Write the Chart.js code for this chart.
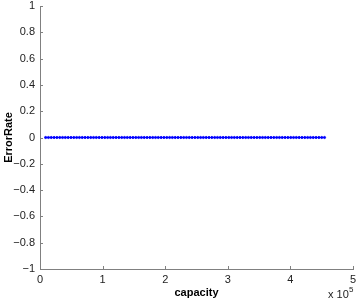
<!DOCTYPE html>
<html>
<head>
<meta charset="utf-8">
<script src="https://cdn.jsdelivr.net/npm/chart.js@4/dist/chart.umd.min.js"></script>
<style>
  html, body { margin: 0; padding: 0; background: #fff; }
  #wrap { width: 360px; height: 302px; }
</style>
</head>
<body>
<div id="wrap"><canvas id="errChart" width="360" height="302"></canvas></div>
<script>
// capacity values
var capacity = [
  9000, 13500, 18000, 22500, 27000, 31500, 36000, 40500, 45000, 49500,
  54000, 58500, 63000, 67500, 72000, 76500, 81000, 85500, 90000, 94500,
  99000, 103500, 108000, 112500, 117000, 121500, 126000, 130500, 135000, 139500,
  144000, 148500, 153000, 157500, 162000, 166500, 171000, 175500, 180000, 184500,
  189000, 193500, 198000, 202500, 207000, 211500, 216000, 220500, 225000, 229500,
  234000, 238500, 243000, 247500, 252000, 256500, 261000, 265500, 270000, 274500,
  279000, 283500, 288000, 292500, 297000, 301500, 306000, 310500, 315000, 319500,
  324000, 328500, 333000, 337500, 342000, 346500, 351000, 355500, 360000, 364500,
  369000, 373500, 378000, 382500, 387000, 391500, 396000, 400500, 405000, 409500,
  414000, 418500, 423000, 427500, 432000, 436500, 441000, 445500, 450000, 454500
]
var errorRate = [
  0, 0, 0, 0, 0, 0, 0, 0, 0, 0,
  0, 0, 0, 0, 0, 0, 0, 0, 0, 0,
  0, 0, 0, 0, 0, 0, 0, 0, 0, 0,
  0, 0, 0, 0, 0, 0, 0, 0, 0, 0,
  0, 0, 0, 0, 0, 0, 0, 0, 0, 0,
  0, 0, 0, 0, 0, 0, 0, 0, 0, 0,
  0, 0, 0, 0, 0, 0, 0, 0, 0, 0,
  0, 0, 0, 0, 0, 0, 0, 0, 0, 0,
  0, 0, 0, 0, 0, 0, 0, 0, 0, 0,
  0, 0, 0, 0, 0, 0, 0, 0, 0, 0
]
var xTicks = [0, 100000, 200000, 300000, 400000, 500000]
var yTicks = [-1, -0.8, -0.6, -0.4, -0.2, 0, 0.2, 0.4, 0.6, 0.8, 1]
var xLabel = "capacity"
var yLabel = "ErrorRate"

var points = capacity.map(function(c, i){ return {x: c, y: errorRate[i]} })
var fontFam = "'Liberation Sans', Arial, Helvetica, sans-serif"
var axisColor = "#808080"

// inward tick marks + "x 10^5" exponent label, matlab style
var matlabTicks = {
  id: 'matlabTicks',
  afterDraw: function(chart){
    var ctx = chart.ctx
    var xs = chart.scales.x, ys = chart.scales.y
    var area = chart.chartArea
    ctx.save()
    ctx.strokeStyle = axisColor
    ctx.lineWidth = 1
    ctx.beginPath()
    xTicks.forEach(function(v){
      var px = Math.round(xs.getPixelForValue(v)) + 0.5
      ctx.moveTo(px, area.bottom)
      ctx.lineTo(px, area.bottom - 3)
    })
    yTicks.forEach(function(v){
      var py = Math.round(ys.getPixelForValue(v)) + 0.5
      ctx.moveTo(area.left, py)
      ctx.lineTo(area.left + 3, py)
    })
    ctx.stroke()
    ctx.fillStyle = "#222"
    ctx.textBaseline = "alphabetic"
    ctx.font = "11px " + fontFam
    ctx.fillText("x 10", 328, 298)
    ctx.font = "8px " + fontFam
    ctx.fillText("5", 349, 292)
    ctx.restore()
  }
}

var chart = new Chart(document.getElementById("errChart"), {
  type: 'scatter',
  data: {
    datasets: [{
      label: yLabel,
      data: points,
      showLine: true,
      borderColor: "#0000ff",
      backgroundColor: "#0000ff",
      borderWidth: 1,
      pointRadius: 1.1,
      pointHoverRadius: 1.1
    }]
  },
  options: {
    responsive: false,
    animation: false,
    events: [],
    layout: { padding: { top: 6, right: 7, left: 0, bottom: 0 } },
    plugins: { legend: { display: false }, tooltip: { enabled: false } },
    scales: {
      x: {
        type: 'linear',
        min: 0, max: 500000,
        afterBuildTicks: function(s){ s.ticks = xTicks.map(function(v){ return {value: v} }) },
        afterFit: function(s){ s.height = 33; s.paddingLeft = 0; s.paddingRight = 0 },
        grid: { display: false, drawTicks: false },
        border: { display: true, color: axisColor, width: 1 },
        ticks: {
          padding: 4,
          color: "#222",
          font: { family: fontFam, size: 11 },
          maxRotation: 0,
          callback: function(v){ return String(v / 100000) }
        },
        title: {
          display: true,
          text: xLabel,
          color: "#000",
          font: { family: fontFam, size: 11, weight: 'bold' },
          padding: { top: 0, bottom: 2 }
        }
      },
      y: {
        min: -1, max: 1,
        afterBuildTicks: function(s){ s.ticks = yTicks.map(function(v){ return {value: v} }) },
        afterFit: function(s){ s.width = 40; s.paddingTop = 0; s.paddingBottom = 0 },
        grid: { display: false, drawTicks: false },
        border: { display: true, color: axisColor, width: 1 },
        ticks: {
          padding: 5,
          color: "#222",
          font: { family: fontFam, size: 11 },
          callback: function(v){ return v < 0 ? "\u2212" + String(Math.round(-v * 10) / 10) : String(Math.round(v * 10) / 10) }
        },
        title: {
          display: true,
          text: yLabel,
          color: "#000",
          font: { family: fontFam, size: 11, weight: 'bold' },
          padding: { top: 2, bottom: 0 }
        }
      }
    }
  },
  plugins: [matlabTicks]
})
</script>
</body>
</html>
